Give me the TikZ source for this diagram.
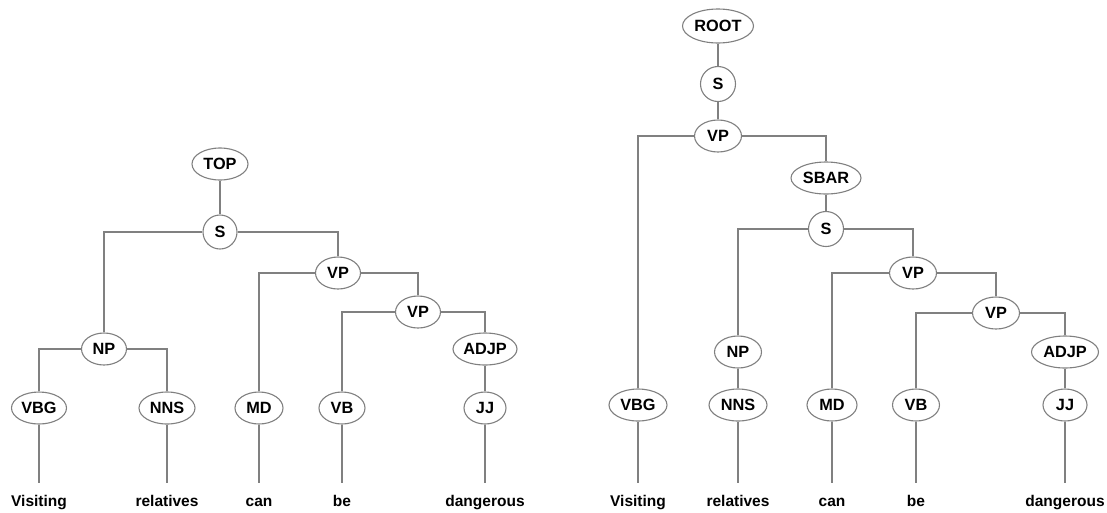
\documentclass[tikz,border=0pt]{standalone}
\usepackage{fontspec}
\setmainfont{Liberation Sans}
\usetikzlibrary{shapes.geometric}
\begin{document}
\begin{tikzpicture}[x=1pt,y=-1pt,
  font=\fontsize{15.5}{18}\selectfont\bfseries,
  link/.style={draw=black!50, line width=1.3pt},
  nd/.style={ellipse, draw=black!50, line width=1.1pt, fill=white, inner sep=0pt, minimum height=32pt, font=\fontsize{16.3}{18}\selectfont\bfseries},
  cn/.style={circle, draw=black!50, line width=1.1pt, fill=white, inner sep=0pt, minimum size=34pt, font=\fontsize{16.3}{18}\selectfont\bfseries},
  word/.style={anchor=base, text height=11.3pt, text depth=3pt, inner xsep=0pt, inner ysep=12pt}]
\useasboundingbox (0,0) rectangle (1107,512);
% ---------- left tree ----------
\node[nd, minimum width=56pt] (TOP) at (220,164) {TOP};
\node[cn] (Sa) at (220,232) {S};
\node[nd, minimum width=45pt] (VPa) at (338,273) {VP};
\node[nd, minimum width=45pt] (VPb) at (418,312) {VP};
\node[nd, minimum width=45pt] (NPa) at (104,349) {NP};
\node[nd, minimum width=64pt] (ADJPa) at (485,349) {ADJP};
\node[nd, minimum width=55pt] (VBGa) at (39,408) {VBG};
\node[nd, minimum width=56pt] (NNSa) at (167,408) {NNS};
\node[nd, minimum width=48pt] (MDa) at (259,408) {MD};
\node[nd, minimum width=46pt] (VBa) at (342,408) {VB};
\node[nd, minimum width=42pt] (JJa) at (485,408) {JJ};
\node[word] (w1a) at (39,506.5) {Visiting};
\node[word] (w2a) at (167,506.5) {relatives};
\node[word] (w3a) at (259,506.5) {can};
\node[word] (w4a) at (342,506.5) {be};
\node[word] (w5a) at (485,506.5) {dangerous};
\draw[link] (TOP.south) -- (Sa.north);
\draw[link] (Sa.west) -| (NPa.north);
\draw[link] (Sa.east) -| (VPa.north);
\draw[link] (VPa.west) -| (MDa.north);
\draw[link] (VPa.east) -| (VPb.north);
\draw[link] (VPb.west) -| (VBa.north);
\draw[link] (VPb.east) -| (ADJPa.north);
\draw[link] (NPa.west) -| (VBGa.north);
\draw[link] (NPa.east) -| (NNSa.north);
\draw[link] (ADJPa.south) -- (JJa.north);
\draw[link] (VBGa.south) -- (w1a.north);
\draw[link] (NNSa.south) -- (w2a.north);
\draw[link] (MDa.south) -- (w3a.north);
\draw[link] (VBa.south) -- (w4a.north);
\draw[link] (JJa.south) -- (w5a.north);
% ---------- right tree ----------
\node[nd, minimum width=71pt, minimum height=34pt] (ROOT) at (718,26) {ROOT};
\node[cn, minimum size=35pt] (Sb) at (718,84) {S};
\node[nd, minimum width=47pt] (VPc) at (718,136) {VP};
\node[nd, minimum width=70pt] (SBAR) at (826,178) {SBAR};
\node[cn, minimum size=35pt] (Sc) at (826,229) {S};
\node[nd, minimum width=47pt] (VPd) at (913,273) {VP};
\node[nd, minimum width=47pt] (VPe) at (996,313) {VP};
\node[nd, minimum width=47pt] (NPb) at (738,352) {NP};
\node[nd, minimum width=67pt] (ADJPb) at (1065,352) {ADJP};
\node[nd, minimum width=58pt] (VBGb) at (638,405) {VBG};
\node[nd, minimum width=58pt] (NNSb) at (738,405) {NNS};
\node[nd, minimum width=50pt] (MDb) at (832,405) {MD};
\node[nd, minimum width=47pt] (VBb) at (916,405) {VB};
\node[nd, minimum width=44pt] (JJb) at (1065,405) {JJ};
\node[word] (w1b) at (638,506.5) {Visiting};
\node[word] (w2b) at (738,506.5) {relatives};
\node[word] (w3b) at (832,506.5) {can};
\node[word] (w4b) at (916,506.5) {be};
\node[word] (w5b) at (1065,506.5) {dangerous};
\draw[link] (ROOT.south) -- (Sb.north);
\draw[link] (Sb.south) -- (VPc.north);
\draw[link] (VPc.west) -| (VBGb.north);
\draw[link] (VPc.east) -| (SBAR.north);
\draw[link] (SBAR.south) -- (Sc.north);
\draw[link] (Sc.west) -| (NPb.north);
\draw[link] (Sc.east) -| (VPd.north);
\draw[link] (VPd.west) -| (MDb.north);
\draw[link] (VPd.east) -| (VPe.north);
\draw[link] (VPe.west) -| (VBb.north);
\draw[link] (VPe.east) -| (ADJPb.north);
\draw[link] (NPb.south) -- (NNSb.north);
\draw[link] (ADJPb.south) -- (JJb.north);
\draw[link] (VBGb.south) -- (w1b.north);
\draw[link] (NNSb.south) -- (w2b.north);
\draw[link] (MDb.south) -- (w3b.north);
\draw[link] (VBb.south) -- (w4b.north);
\draw[link] (JJb.south) -- (w5b.north);
\end{tikzpicture}
\end{document}
